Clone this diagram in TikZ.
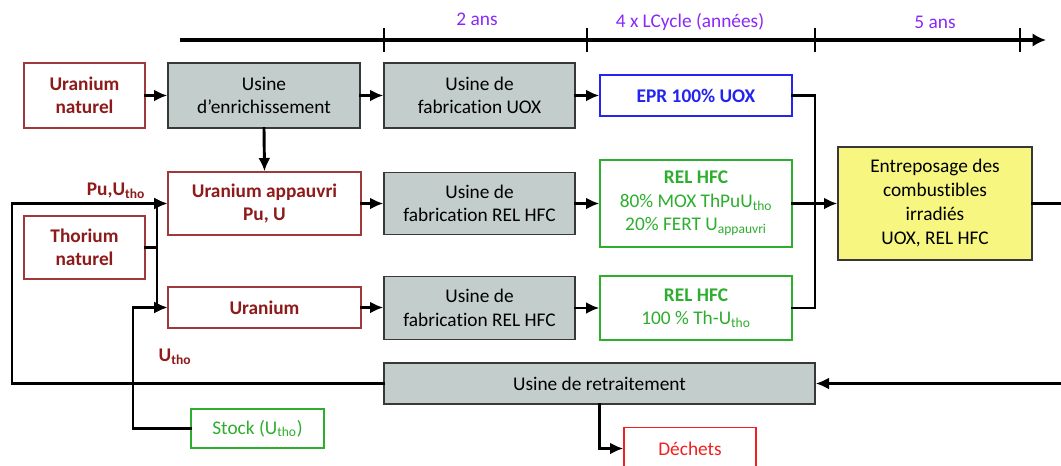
\documentclass[tikz,border=0pt]{standalone}
\usepackage{fontspec}
\setmainfont{Carlito}[Ligatures={NoCommon}]
\usetikzlibrary{arrows.meta}
\definecolor{dred}{HTML}{8E1A1A}
\definecolor{redborder}{HTML}{A03A3A}
\definecolor{gfill}{HTML}{C2CDCC}
\definecolor{gborder}{HTML}{383838}
\definecolor{yfill}{HTML}{F6F680}
\definecolor{blu}{HTML}{2424F0}
\definecolor{grn}{HTML}{2EAE2E}
\definecolor{rd}{HTML}{F02020}
\definecolor{purp}{HTML}{8A28FA}
\tikzset{
  txt/.style={font=\fontsize{14.5}{17.5}\selectfont, align=center, inner sep=0pt},
  plant/.style={txt, draw=gborder, fill=gfill, line width=1pt},
  rawbox/.style={txt, draw=redborder, fill=white, line width=1pt, text=dred, font=\fontsize{14.5}{17.5}\selectfont\bfseries},
  epbox/.style={txt, draw=blu, fill=white, line width=1pt, text=blu, font=\fontsize{14.5}{17.5}\selectfont\bfseries},
  relbox/.style={txt, draw=grn, fill=white, line width=1pt, text=grn},
  wastebox/.style={txt, draw=rd, fill=white, line width=1pt, text=rd},
  storebox/.style={txt, draw=gborder, fill=yfill, line width=1pt, font=\fontsize{14.5}{18}\selectfont},
  conn/.style={line width=2.2pt, line cap=rect},
  arr/.style={conn, -{Latex[length=10pt,width=9pt]}},
  tick/.style={line width=1pt},
  period/.style={txt, text=purp},
  flowlbl/.style={txt, text=dred, font=\fontsize{14.5}{17.5}\selectfont\bfseries}
}
\begin{document}
\begin{tikzpicture}[x=0.75pt,y=-0.75pt]
\useasboundingbox (0,0) rectangle (1061,465);
% timeline
\coordinate (t0) at (180,40);
\coordinate (t1) at (1046,40);
\draw[line width=3.6pt, -{Latex[length=10pt,width=10pt]}] (t0) -- (t1);
\foreach \x [count=\i] in {384,587,815,1020} {
  \coordinate (ka\i) at (\x,28);
  \coordinate (kb\i) at (\x,52);
  \draw[tick] (ka\i) -- (kb\i);
}
\node[period] (p1) at (477,19) {2 ans};
\node[period] (p2) at (690,22) {4 x LCycle (années)};
\node[period] (p3) at (935,22) {5 ans};

% boxes
\node[rawbox, minimum width=90.75pt, minimum height=48.75pt] (un) at (84.5,95.5) {Uranium\\naturel};
\node[plant, minimum width=144pt, minimum height=48.75pt] (enr) at (264,95.5) {Usine\\d’enrichissement};
\node[plant, minimum width=143.25pt, minimum height=48.75pt] (fuox) at (479.5,95.5) {Usine de\\fabrication UOX};
\node[epbox, minimum width=144pt, minimum height=30.75pt] (epr) at (696,95.5) {EPR 100\% UOX};

\node[rawbox, minimum width=144.75pt, minimum height=47.25pt] (ua) at (264.5,203.5) {Uranium appauvri\\Pu, U};
\node[plant, minimum width=143.25pt, minimum height=46.5pt] (fmid) at (479.5,203.5) {Usine de\\fabrication REL HFC};
\node[relbox, minimum width=144pt, minimum height=65.25pt] (rmid) at (696,203.5) {\textbf{REL HFC}\\80\% MOX ThPuU\textsubscript{tho}\\20\% FERT U\textsubscript{appauvri}};

\node[rawbox, minimum width=90.75pt, minimum height=47.25pt] (th) at (84.5,247.5) {Thorium\\naturel};
\node[rawbox, minimum width=144.75pt, minimum height=30.75pt] (ur) at (264.5,307.5) {Uranium};
\node[plant, minimum width=143.25pt, minimum height=47.25pt] (flow) at (479.5,308) {Usine de\\fabrication REL HFC};
\node[relbox, minimum width=144pt, minimum height=48pt] (rlow) at (696,308) {\textbf{REL HFC}\\100 \% Th-U\textsubscript{tho}};

\node[storebox, minimum width=145.5pt, minimum height=84.75pt] (ent) at (935,203.5) {Entreposage des\\combustibles\\irradiés\\UOX, REL HFC};

\node[plant, minimum width=323.25pt, minimum height=30.75pt] (ret) at (599.5,383.5) {Usine de retraitement};
\node[wastebox, minimum width=99pt, minimum height=31.5pt] (dec) at (690,448.5) {Déchets};
\node[relbox, minimum width=99.75pt, minimum height=29.25pt] (stock) at (257.5,428.5) {Stock (U\textsubscript{tho})};

% labels
\node[flowlbl] (lpu) at (116,191) {Pu,U\textsubscript{tho}};
\node[flowlbl] (lut) at (175,357) {U\textsubscript{tho}};

% connectors
\draw[arr] (un.east) -- (enr.west);
\draw[arr] (enr.east) -- (fuox.west);
\draw[arr] (fuox.east) -- (epr.west);
\draw[arr] (enr.south) -- (ua.north);
\draw[arr] (ua.east) -- (fmid.west);
\draw[arr] (fmid.east) -- (rmid.west);
\draw[arr] (ur.east) -- (ur.east -| flow.west);
\draw[arr] (flow.east) -- (rlow.west);

\coordinate (j) at (815,203.5);
\draw[conn] (epr.east) -| (j);
\draw[conn] (rlow.east) -| (j);
\draw[arr] (rmid.east) -- (ent.west);

\coordinate (outR) at (1070,203.5);
\draw[conn] (ent.east) -- (outR);
\coordinate (inR) at (1070,383.5);
\draw[arr] (inR) -- (ret.east);

\coordinate (lft) at (12,383.5);
\draw[arr] (ret.west) -- (lft) |- (ua.west);

\coordinate (bus) at (157,247.5);
\draw[arr] (th.east) -- (bus) |- (ua.west);
\draw[arr] (th.east) -- (bus) |- (ur.west);

\coordinate (sk) at (133,428.5);
\draw[arr] (stock.west) -- (sk) |- (ur.west);

\draw[arr] (ret.south) |- (dec.west);
\end{tikzpicture}
\end{document}
